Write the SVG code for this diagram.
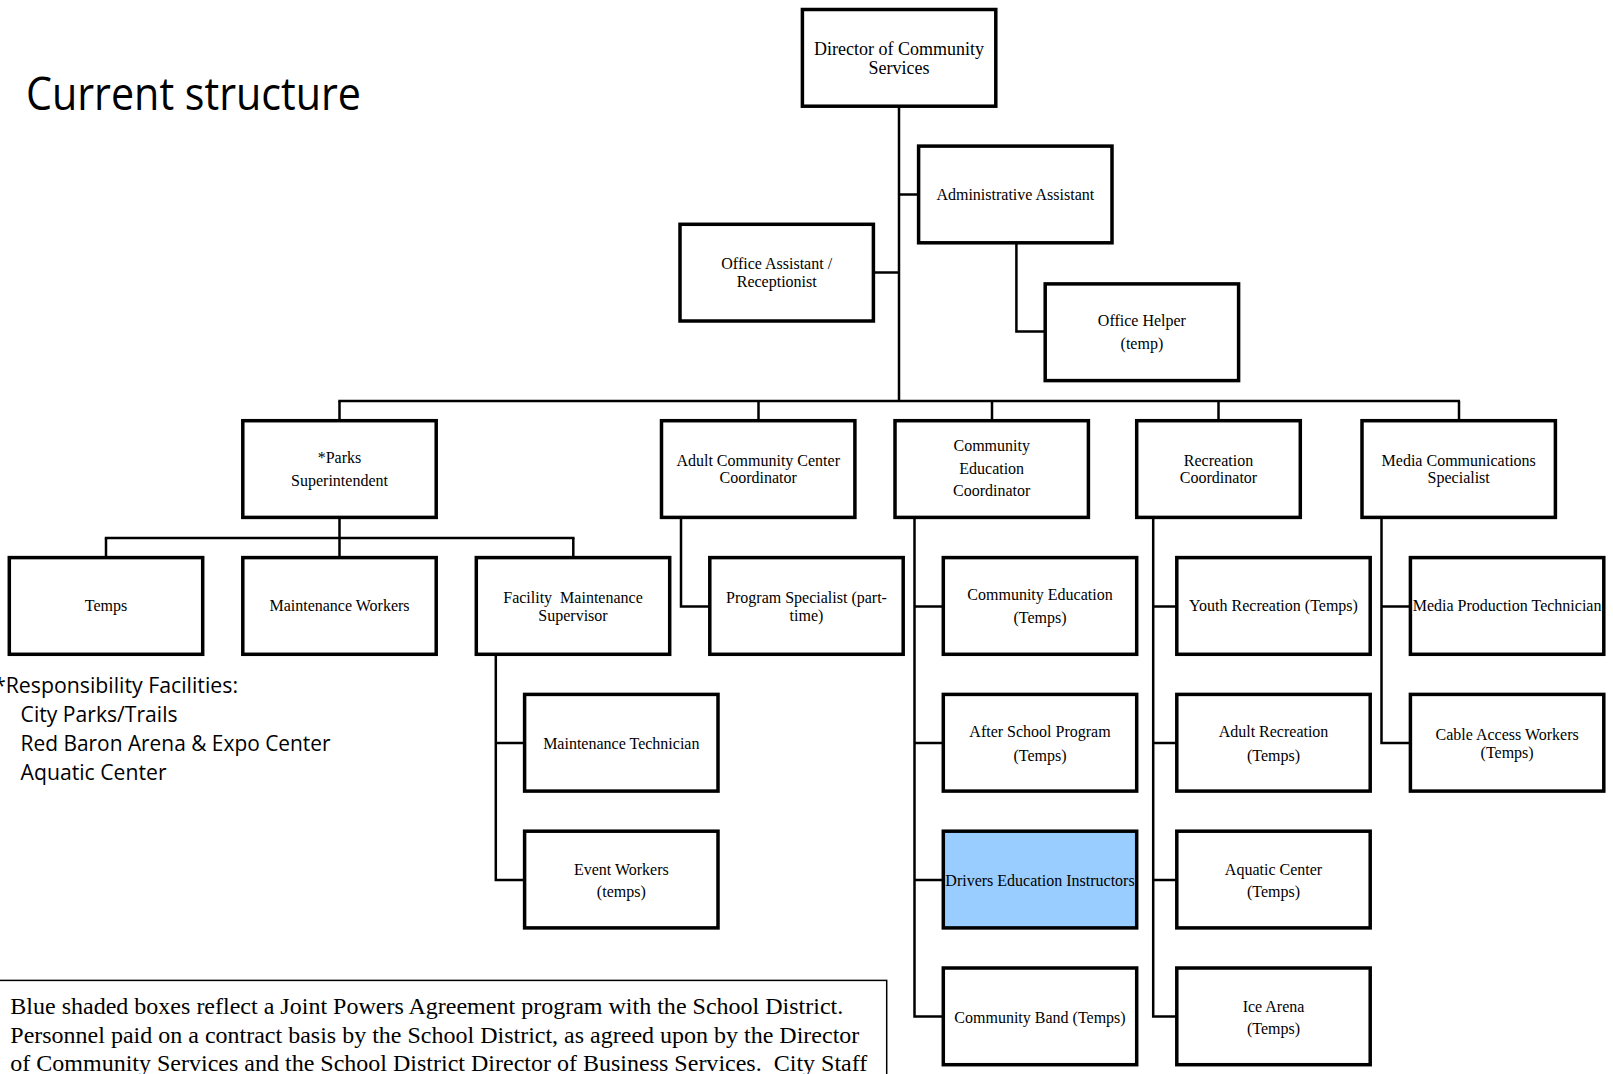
<svg xmlns="http://www.w3.org/2000/svg" width="1613" height="1074" viewBox="0 0 1613 1074">
<style>
.box{fill:#fff;stroke:#000;stroke-width:3.5}
.blue{fill:#99ccff}
.t{font-family:"Liberation Serif","Times New Roman",serif;font-size:16px;fill:#000;text-anchor:middle}
.big{font-size:18px}
.conn line,.conn polyline{stroke:#000;stroke-width:2.5;fill:none}
.cal{font-family:"Open Sans","Noto Sans",sans-serif;fill:#000}
.note{font-family:"Liberation Serif","Times New Roman",serif;font-size:23px;fill:#000}
</style>
<rect width="1613" height="1074" fill="#fff"/>
<text class="cal" x="26" y="110" font-size="46" textLength="335" lengthAdjust="spacingAndGlyphs">Current structure</text>

<g id="connectors" class="conn">
<line x1="899" y1="106" x2="899" y2="401"/>
<line x1="899" y1="194.5" x2="918.6" y2="194.5"/>
<line x1="874" y1="272.5" x2="899" y2="272.5"/>
<polyline points="1016.4,243 1016.4,331.5 1045.2,331.5"/>
<line x1="338.3" y1="401" x2="1460" y2="401"/>
<line x1="339.5" y1="401" x2="339.5" y2="420.7"/>
<line x1="758.5" y1="401" x2="758.5" y2="420.7"/>
<line x1="992" y1="401" x2="992" y2="420.7"/>
<line x1="1218.5" y1="401" x2="1218.5" y2="420.7"/>
<line x1="1459" y1="401" x2="1459" y2="420.7"/>
<line x1="339.5" y1="517.4" x2="339.5" y2="538"/>
<line x1="104.8" y1="538" x2="574.5" y2="538"/>
<line x1="106" y1="538" x2="106" y2="557.6"/>
<line x1="339.5" y1="538" x2="339.5" y2="557.6"/>
<line x1="573.3" y1="538" x2="573.3" y2="557.6"/>
<polyline points="681,517.4 681,606.5 709.8,606.5"/>
<polyline points="943.3,1016.5 914.5,1016.5 914.5,517.4"/>
<line x1="914.5" y1="606.5" x2="943.3" y2="606.5"/>
<line x1="914.5" y1="743" x2="943.3" y2="743"/>
<line x1="914.5" y1="880" x2="943.3" y2="880"/>
<polyline points="1176.8,1016.5 1153.2,1016.5 1153.2,517.4"/>
<line x1="1153.2" y1="606.5" x2="1176.8" y2="606.5"/>
<line x1="1153.2" y1="743" x2="1176.8" y2="743"/>
<line x1="1153.2" y1="880" x2="1176.8" y2="880"/>
<polyline points="1410.4,743 1381.5,743 1381.5,517.4"/>
<line x1="1381.5" y1="606.5" x2="1410.4" y2="606.5"/>
<polyline points="524.6,880 495.8,880 495.8,654.3"/>
<line x1="495.8" y1="743" x2="524.6" y2="743"/>
</g>

<g id="n-director"><rect class="box" x="802.4" y="9.5" width="193.4" height="96.7"/><text class="t big" x="899" y="54.5">Director of Community</text><text class="t big" x="899" y="74">Services</text></g>
<g id="n-admin"><rect class="box" x="918.6" y="146.1" width="193.4" height="96.7"/><text class="t" x="1015.3" y="200">Administrative Assistant</text></g>
<g id="n-office-asst"><rect class="box" x="680" y="224.3" width="193.4" height="96.7"/><text class="t" x="776.7" y="269">Office Assistant /</text><text class="t" x="776.7" y="286.5">Receptionist</text></g>
<g id="n-office-helper"><rect class="box" x="1045.2" y="283.9" width="193.4" height="96.7"/><text class="t" x="1141.9" y="325.5">Office Helper</text><text class="t" x="1141.9" y="349">(temp)</text></g>

<g id="n-parks"><rect class="box" x="242.8" y="420.7" width="193.4" height="96.7"/><text class="t" x="339.5" y="463.3">*Parks</text><text class="t" x="339.5" y="486">Superintendent</text></g>
<g id="n-adult-cc"><rect class="box" x="661.5" y="420.7" width="193.4" height="96.7"/><text class="t" x="758.2" y="466.4">Adult Community Center</text><text class="t" x="758.2" y="483">Coordinator</text></g>
<g id="n-comm-ed"><rect class="box" x="895" y="420.7" width="193.4" height="96.7"/><text class="t" x="991.7" y="451">Community</text><text class="t" x="991.7" y="473.5">Education</text><text class="t" x="991.7" y="496">Coordinator</text></g>
<g id="n-rec"><rect class="box" x="1136.7" y="420.7" width="163.6" height="96.7"/><text class="t" x="1218.5" y="466.4">Recreation</text><text class="t" x="1218.5" y="483">Coordinator</text></g>
<g id="n-media"><rect class="box" x="1362" y="420.7" width="193.4" height="96.7"/><text class="t" x="1458.7" y="466.4">Media Communications</text><text class="t" x="1458.7" y="483">Specialist</text></g>

<g id="n-temps"><rect class="box" x="9.3" y="557.6" width="193.4" height="96.7"/><text class="t" x="106" y="611.4">Temps</text></g>
<g id="n-maint-workers"><rect class="box" x="242.8" y="557.6" width="193.4" height="96.7"/><text class="t" x="339.5" y="611.4">Maintenance Workers</text></g>
<g id="n-facility"><rect class="box" x="476.3" y="557.6" width="193.4" height="96.7"/><text class="t" x="573" y="603.2" xml:space="preserve">Facility  Maintenance</text><text class="t" x="573" y="620.7">Supervisor</text></g>
<g id="n-program-spec"><rect class="box" x="709.8" y="557.6" width="193.4" height="96.7"/><text class="t" x="806.5" y="603.2">Program Specialist (part-</text><text class="t" x="806.5" y="620.7">time)</text></g>
<g id="n-ce-temps"><rect class="box" x="943.3" y="557.6" width="193.4" height="96.7"/><text class="t" x="1040" y="600">Community Education</text><text class="t" x="1040" y="622.7">(Temps)</text></g>
<g id="n-youth"><rect class="box" x="1176.8" y="557.6" width="193.4" height="96.7"/><text class="t" x="1273.5" y="611.4">Youth Recreation (Temps)</text></g>
<g id="n-media-prod"><rect class="box" x="1410.4" y="557.6" width="193.4" height="96.7"/><text class="t" x="1507.1" y="611.4">Media Production Technician</text></g>

<g id="n-maint-tech"><rect class="box" x="524.6" y="694.4" width="193.4" height="96.7"/><text class="t" x="621.3" y="749.3">Maintenance Technician</text></g>
<g id="n-after-school"><rect class="box" x="943.3" y="694.4" width="193.4" height="96.7"/><text class="t" x="1040" y="737">After School Program</text><text class="t" x="1040" y="760.5">(Temps)</text></g>
<g id="n-adult-rec"><rect class="box" x="1176.8" y="694.4" width="193.4" height="96.7"/><text class="t" x="1273.5" y="737">Adult Recreation</text><text class="t" x="1273.5" y="760.5">(Temps)</text></g>
<g id="n-cable"><rect class="box" x="1410.4" y="694.4" width="193.4" height="96.7"/><text class="t" x="1507.1" y="740">Cable Access Workers</text><text class="t" x="1507.1" y="757.5">(Temps)</text></g>

<g id="n-event"><rect class="box" x="524.6" y="831.2" width="193.4" height="96.7"/><text class="t" x="621.3" y="874.8">Event Workers</text><text class="t" x="621.3" y="897.4">(temps)</text></g>
<g id="n-drivers"><rect class="box blue" x="943.3" y="831.2" width="193.4" height="96.7"/><text class="t" x="1040" y="886">Drivers Education Instructors</text></g>
<g id="n-aquatic"><rect class="box" x="1176.8" y="831.2" width="193.4" height="96.7"/><text class="t" x="1273.5" y="874.8">Aquatic Center</text><text class="t" x="1273.5" y="897.4">(Temps)</text></g>

<g id="n-band"><rect class="box" x="943.3" y="968" width="193.4" height="96.7"/><text class="t" x="1040" y="1023">Community Band (Temps)</text></g>
<g id="n-ice"><rect class="box" x="1176.8" y="968" width="193.4" height="96.7"/><text class="t" x="1273.5" y="1011.5">Ice Arena</text><text class="t" x="1273.5" y="1034">(Temps)</text></g>

<g id="responsibility" class="cal" font-size="22">
<text x="-6" y="693" textLength="244" lengthAdjust="spacingAndGlyphs">*Responsibility Facilities:</text>
<text x="20.6" y="722" textLength="157" lengthAdjust="spacingAndGlyphs">City Parks/Trails</text>
<text x="20.6" y="751" textLength="310" lengthAdjust="spacingAndGlyphs">Red Baron Arena &amp; Expo Center</text>
<text x="20.6" y="780" textLength="146" lengthAdjust="spacingAndGlyphs">Aquatic Center</text>
</g>

<g id="note">
<rect x="-2" y="980.4" width="888.7" height="110" fill="#fff" stroke="#000" stroke-width="1.5"/>
<text class="note" x="10.3" y="1014" textLength="833" lengthAdjust="spacingAndGlyphs">Blue shaded boxes reflect a Joint Powers Agreement program with the School District.</text>
<text class="note" x="10.3" y="1043" textLength="849" lengthAdjust="spacingAndGlyphs">Personnel paid on a contract basis by the School District, as agreed upon by the Director</text>
<text class="note" x="10.3" y="1071" textLength="857" lengthAdjust="spacingAndGlyphs" xml:space="preserve">of Community Services and the School District Director of Business Services.  City Staff</text>
</g>
</svg>
